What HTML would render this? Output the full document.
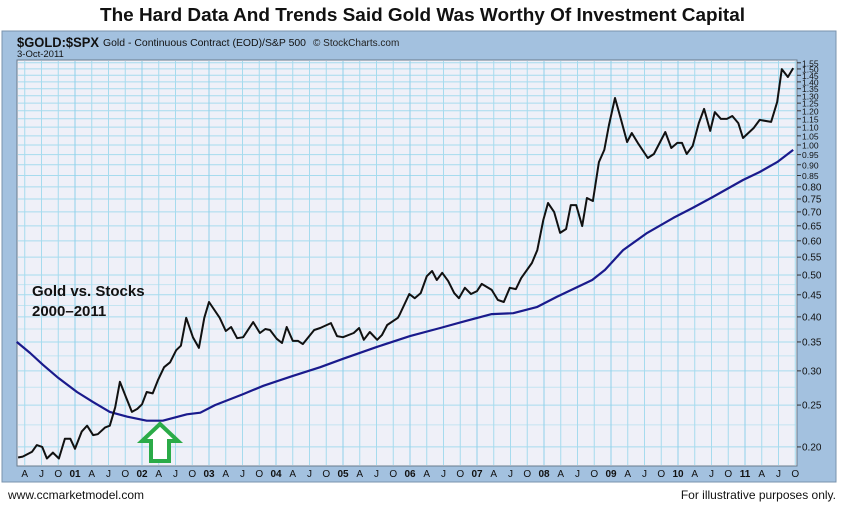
<!DOCTYPE html>
<html><head><meta charset="utf-8"><style>
body{margin:0;background:#fff;width:843px;height:511px;overflow:hidden;font-family:"Liberation Sans",sans-serif}
svg{display:block}
</style></head><body>
<svg id="chart" width="843" height="511">
<text x="100" y="21" textLength="645" lengthAdjust="spacingAndGlyphs" font-size="18" font-weight="bold" fill="#111">The Hard Data And Trends Said Gold Was Worthy Of Investment Capital</text>
<rect x="2" y="31" width="834" height="451" fill="#a3c1df" stroke="#7a93ad"/>
<text x="17" y="47" font-size="14" font-weight="bold" textLength="82" lengthAdjust="spacingAndGlyphs" fill="#111">$GOLD:$SPX</text>
<text x="103" y="46" font-size="10" textLength="203" lengthAdjust="spacingAndGlyphs" fill="#111">Gold - Continuous Contract (EOD)/S&amp;P 500</text>
<text x="313" y="46" font-size="10" fill="#222">© StockCharts.com</text>
<text x="17" y="57" font-size="9.5" fill="#111">3-Oct-2011</text>
<rect x="17" y="60" width="780" height="406" fill="#eff0f8" stroke="#6a7b8c"/>
<g id="grid"></g><g id="axes"></g><g id="series"></g>
<text x="32" y="296" font-size="15" font-weight="bold" fill="#111">Gold vs. Stocks</text>
<text x="32" y="316" font-size="15" font-weight="bold" fill="#111">2000–2011</text>
<path d="M160,424 L178,441 L169,441 L169,461 L151,461 L151,441 L142,441 Z" fill="#fff" stroke="#2bab48" stroke-width="4" stroke-linejoin="miter"/>
<text x="8" y="499" font-size="12" fill="#111">www.ccmarketmodel.com</text>
<text x="836" y="499" font-size="12" text-anchor="end" fill="#111">For illustrative purposes only.</text>
</svg>
<script>
const ratioDates=[2000.15,2000.22,2000.36,2000.43,2000.51,2000.58,2000.67,2000.76,2000.85,2000.93,2001.00,2001.10,2001.18,2001.27,2001.34,2001.45,2001.52,2001.60,2001.67,2001.76,2001.85,2001.93,2002.00,2002.07,2002.16,2002.24,2002.33,2002.42,2002.51,2002.58,2002.66,2002.76,2002.85,2002.93,2003.00,2003.16,2003.25,2003.33,2003.42,2003.51,2003.66,2003.76,2003.84,2003.91,2004.01,2004.09,2004.16,2004.25,2004.33,2004.40,2004.57,2004.66,2004.82,2004.91,2005.00,2005.16,2005.24,2005.31,2005.40,2005.51,2005.58,2005.66,2005.82,2005.85,2005.99,2006.07,2006.16,2006.25,2006.33,2006.40,2006.48,2006.57,2006.66,2006.73,2006.82,2006.91,2007.00,2007.07,2007.22,2007.31,2007.40,2007.49,2007.58,2007.66,2007.82,2007.90,2007.99,2008.06,2008.15,2008.24,2008.33,2008.40,2008.48,2008.57,2008.64,2008.73,2008.82,2008.90,2008.97,2009.06,2009.15,2009.24,2009.31,2009.40,2009.55,2009.64,2009.81,2009.90,2009.99,2010.06,2010.13,2010.22,2010.31,2010.39,2010.48,2010.55,2010.64,2010.73,2010.81,2010.90,2010.97,2011.13,2011.22,2011.39,2011.48,2011.55,2011.64,2011.72];
const ratioValues=[0.189,0.190,0.195,0.202,0.200,0.188,0.194,0.188,0.209,0.209,0.198,0.217,0.224,0.213,0.214,0.222,0.224,0.247,0.283,0.261,0.241,0.245,0.251,0.268,0.266,0.286,0.306,0.314,0.335,0.343,0.398,0.359,0.339,0.398,0.433,0.398,0.371,0.379,0.357,0.359,0.389,0.367,0.375,0.373,0.356,0.348,0.379,0.352,0.352,0.346,0.373,0.377,0.387,0.361,0.359,0.367,0.377,0.354,0.369,0.354,0.363,0.383,0.398,0.406,0.452,0.442,0.454,0.497,0.511,0.487,0.506,0.484,0.454,0.442,0.467,0.452,0.459,0.477,0.462,0.438,0.433,0.467,0.464,0.492,0.533,0.571,0.670,0.734,0.700,0.626,0.639,0.726,0.726,0.649,0.754,0.742,0.913,0.974,1.113,1.285,1.143,1.016,1.066,1.011,0.933,0.953,1.072,0.984,1.011,1.011,0.953,0.995,1.124,1.212,1.078,1.192,1.149,1.149,1.167,1.124,1.038,1.095,1.143,1.131,1.258,1.499,1.437,1.507];
const maDates=[2000.13,2000.33,2000.52,2000.75,2001.03,2001.27,2001.52,2001.78,2002.07,2002.31,2002.67,2002.87,2003.09,2003.51,2003.81,2004.25,2004.66,2005.00,2005.51,2006.00,2006.45,2006.82,2007.22,2007.54,2007.90,2008.19,2008.72,2008.91,2009.18,2009.54,2009.93,2010.22,2010.52,2010.97,2011.22,2011.48,2011.72];
const maValues=[0.350,0.330,0.310,0.289,0.268,0.254,0.241,0.235,0.230,0.230,0.238,0.240,0.250,0.265,0.277,0.292,0.306,0.320,0.341,0.361,0.377,0.391,0.406,0.408,0.422,0.445,0.487,0.514,0.571,0.626,0.678,0.715,0.758,0.830,0.866,0.913,0.974];
const yTicks=["0.20","0.25","0.30","0.35","0.40","0.45","0.50","0.55","0.60","0.65","0.70","0.75","0.80","0.85","0.90","0.95","1.00","1.05","1.10","1.15","1.20","1.25","1.30","1.35","1.40","1.45","1.50","1.55"];
const minorTicks=[0.225,0.275,0.325,0.375,0.425,0.475];
const xQuarterLabels=["A","J","O","01","A","J","O","02","A","J","O","03","A","J","O","04","A","J","O","05","A","J","O","06","A","J","O","07","A","J","O","08","A","J","O","09","A","J","O","10","A","J","O","11","A","J","O"];

const NS="http://www.w3.org/2000/svg";
function xS(t){return 8+(t-2000)*67;}
function yS(v){return 145-187.6*Math.log(v);}
function mk(tag,attrs,parent){const e=document.createElementNS(NS,tag);for(const k in attrs)e.setAttribute(k,attrs[k]);parent.appendChild(e);return e;}
const grid=document.getElementById('grid'),axes=document.getElementById('axes'),series=document.getElementById('series');
yTicks.forEach(s=>{const v=parseFloat(s),y=yS(v);
 const l=mk('line',{x1:18,x2:796,y1:y,y2:y,stroke:'#a6dbee','stroke-width':1},grid);
 
 
 const tk=mk('line',{x1:797,x2:801,y1:y,y2:y,stroke:'#333'},axes);
 
 
 const tx=mk('text',{x:802,y:y+3.5,'font-size':v>=0.85?8.5:10,fill:'#111'},axes);
 tx.textContent=s;
 
 
});
minorTicks.forEach(v=>{const y=yS(v);
 const l=mk('line',{x1:18,x2:796,y1:y,y2:y,stroke:'#c4e4f1','stroke-width':1},grid);
 
 
});
xQuarterLabels.forEach((s,i)=>{const t=2000.25+i*0.25,x=xS(t);
 const l=mk('line',{x1:x,x2:x,y1:61,y2:465,stroke:s.length>1?'#8fd0ea':'#a6dbee','stroke-width':1},grid);
 
 
 const tx=mk('text',{x:x,y:477,'text-anchor':'middle','font-size':10,'font-weight':s.length>1?'bold':'normal',fill:'#111'},axes);
 tx.textContent=s;
 
 
});
function path(dates,vals){return dates.map((t,i)=>(i?'L':'M')+xS(t).toFixed(1)+','+yS(vals[i]).toFixed(1)).join(' ');}
const ma=mk('path',{d:path(maDates,maValues),fill:'none',stroke:'#1a1a8c','stroke-width':2.2,'stroke-linejoin':'round'},series);


const r=mk('path',{d:path(ratioDates,ratioValues),fill:'none',stroke:'#111','stroke-width':2,'stroke-linejoin':'round'},series);


</script>
</body></html>
